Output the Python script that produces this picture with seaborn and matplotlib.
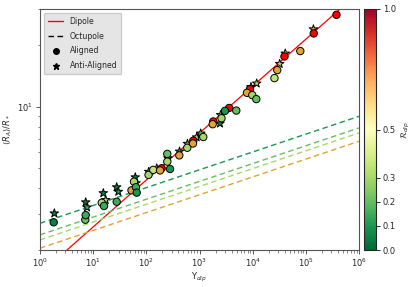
import numpy as np
import pandas as pd
import matplotlib
matplotlib.use("Agg")
import matplotlib.pyplot as plt
import seaborn as sns
from matplotlib.lines import Line2D
from matplotlib.ticker import FixedLocator, LogLocator, NullFormatter

# ---------------- data ----------------
# Aligned (circles)
al_ups = [1.81, 7.11, 7.24, 14.5, 16.0, 27.7, 58.6, 52.6, 63.9, 65.9,
          110, 135, 194, 181, 279, 248, 248, 417, 589, 764,
          755, 1178, 1816, 1770, 2592, 3614, 3016, 4920, 8912, 7820,
          9840, 11700, 25700, 29000, 39600, 78700, 141000, 377000]
al_ra = [2.73, 2.81, 2.96, 3.40, 3.28, 3.44, 4.31, 3.91, 4.05, 3.81,
         4.65, 4.92, 5.01, 4.89, 4.97, 5.89, 5.40, 5.79, 6.31, 6.83,
         6.62, 7.12, 8.48, 8.22, 8.79, 9.87, 9.55, 9.58, 12.2, 11.7,
         11.4, 10.9, 13.8, 15.1, 17.6, 18.7, 22.8, 28.1]
al_rdip = [0.05, 0.2, 0.15, 0.3, 0.15, 0.15, 0.3, 0.7, 0.15, 0.1,
           0.3, 0.35, 1.0, 0.7, 0.1, 0.2, 0.3, 0.7, 0.3, 1.0,
           0.7, 0.3, 1.0, 0.7, 0.3, 1.0, 0.1, 0.2, 1.0, 0.7,
           0.3, 0.2, 0.35, 0.7, 1.0, 0.7, 1.0, 1.0]

# Anti-aligned (stars)
an_ups = [1.86, 7.24, 7.66, 15.5, 17.2, 27.7, 29.7, 62.0, 63.9, 111,
          157, 255, 421, 594, 885, 1052, 2428, 2502, 11900, 9300,
          32200, 41000, 139000]
an_ra = [3.02, 3.42, 3.23, 3.79, 3.51, 4.05, 3.85, 4.53, 4.24, 4.82,
         5.01, 5.61, 6.05, 6.60, 7.10, 7.41, 8.29, 9.12, 13.0, 12.5,
         16.2, 18.2, 23.9]
an_rdip = [0.05, 0.05, 0.15, 0.05, 0.3, 0.05, 0.1, 0.05, 0.2, 0.15,
           0.3, 0.05, 0.1, 0.2, 0.3, 0.2, 0.05, 0.25, 0.3, 0.6,
           0.3, 0.6, 0.7]

# Dipole power law
dip_K, dip_m = 1.53, 0.229
# Octupole-regime dashed lines
oct_K = [2.70, 2.37, 2.24, 2.04]
oct_m = [0.087, 0.087, 0.087, 0.087]
oct_rdip = [0.1, 0.2, 0.3, 0.7]

x_ticks = [1e0, 1e1, 1e2, 1e3, 1e4, 1e5, 1e6]
cbar_ticks = [0.0, 0.1, 0.2, 0.3, 0.5, 1.0]

# ---------------- plot ----------------
sns.set_style("ticks")
plt.rcParams['font.family'] = ['DejaVu Sans']
plt.rcParams['mathtext.fontset'] = 'dejavusans'

cmap = plt.get_cmap('RdYlGn_r')
norm = matplotlib.colors.Normalize(0, 1)


def rcolor(r):
    # pure dipole cases drawn in red, strongly-dipolar mixed cases in gold
    if r >= 1.0:
        return '#ff0000'
    if r >= 0.65:
        return '#e0a335'
    return cmap(norm(r))


fig = plt.figure(figsize=(4.15, 2.87), dpi=100)
ax = fig.add_axes([40/415, 37/287, 319/415, 241/287])
cax = fig.add_axes([364/415, 37/287, 12/415, 241/287])

ups_grid = np.logspace(0, 6, 200)
dip_df = pd.DataFrame({'x': ups_grid, 'y': dip_K * ups_grid ** dip_m})
sns.lineplot(data=dip_df, x='x', y='y', color='red', lw=0.9, ax=ax, zorder=2)
for K, m, r in zip(oct_K, oct_m, oct_rdip):
    d = pd.DataFrame({'x': ups_grid, 'y': K * ups_grid ** m})
    sns.lineplot(data=d, x='x', y='y', color=rcolor(r), lw=1.0,
                 ls=(0, (4, 2.5)), ax=ax, zorder=2)

an = pd.DataFrame({'x': an_ups, 'y': an_ra, 'r': an_rdip})
al = pd.DataFrame({'x': al_ups, 'y': al_ra, 'r': al_rdip})


def draw(df, marker, s):
    pal = {r: rcolor(r) for r in df.r.unique()}
    sns.scatterplot(data=df, x='x', y='y', hue='r', palette=pal,
                    marker=marker, s=s, edgecolor='black',
                    linewidth=0.7, legend=False, ax=ax, zorder=3)


draw(an, '*', 42)
draw(al, 'o', 28)

ax.set_xscale('log')
ax.set_yscale('log')
ax.set_xlim(1, 1e6)
ax.set_ylim(2, 30)
ax.xaxis.set_major_locator(FixedLocator(x_ticks))
ax.xaxis.set_minor_locator(LogLocator(base=10, subs=np.arange(2, 10), numticks=20))
ax.yaxis.set_minor_formatter(NullFormatter())
ax.xaxis.set_minor_formatter(NullFormatter())
ax.tick_params(axis='both', which='major', labelsize=6, length=3, width=0.7, color='#555555', pad=2)
ax.tick_params(axis='both', which='minor', length=1.8, width=0.5, color='#555555')
for sp in ax.spines.values():
    sp.set_visible(True)
    sp.set_color('#555555')
    sp.set_linewidth(0.8)

ax.set_xlabel(r'$\Upsilon_{dip}$', fontsize=6, labelpad=1)
ax.set_ylabel(r'$\langle R_A\rangle/R_*$', fontsize=6, labelpad=3)

handles = [Line2D([], [], color='red', lw=1.0),
           Line2D([], [], color='black', lw=1.0, ls=(0, (4, 2.5))),
           Line2D([], [], color='black', marker='o', ls='none', markersize=4),
           Line2D([], [], color='black', marker='*', ls='none', markersize=4.5)]
labels = ['Dipole', 'Octupole', 'Aligned', 'Anti-Aligned']
leg = ax.legend(handles, labels, loc='upper left', fontsize=5.6,
                frameon=True, facecolor='#e5e5e5', edgecolor='#cccccc',
                framealpha=1.0, borderpad=0.5, handlelength=2.0,
                labelspacing=0.75, borderaxespad=0.5)

sm = matplotlib.cm.ScalarMappable(norm=norm, cmap=cmap)
cb = fig.colorbar(sm, cax=cax, ticks=cbar_ticks)
cb.ax.tick_params(labelsize=6, length=3, width=0.7, pad=2)
cb.set_label(r'$\mathcal{R}_{dip}$', fontsize=6, labelpad=3)
cb.outline.set_linewidth(0.8)

fig.savefig('out.png', dpi=100)
